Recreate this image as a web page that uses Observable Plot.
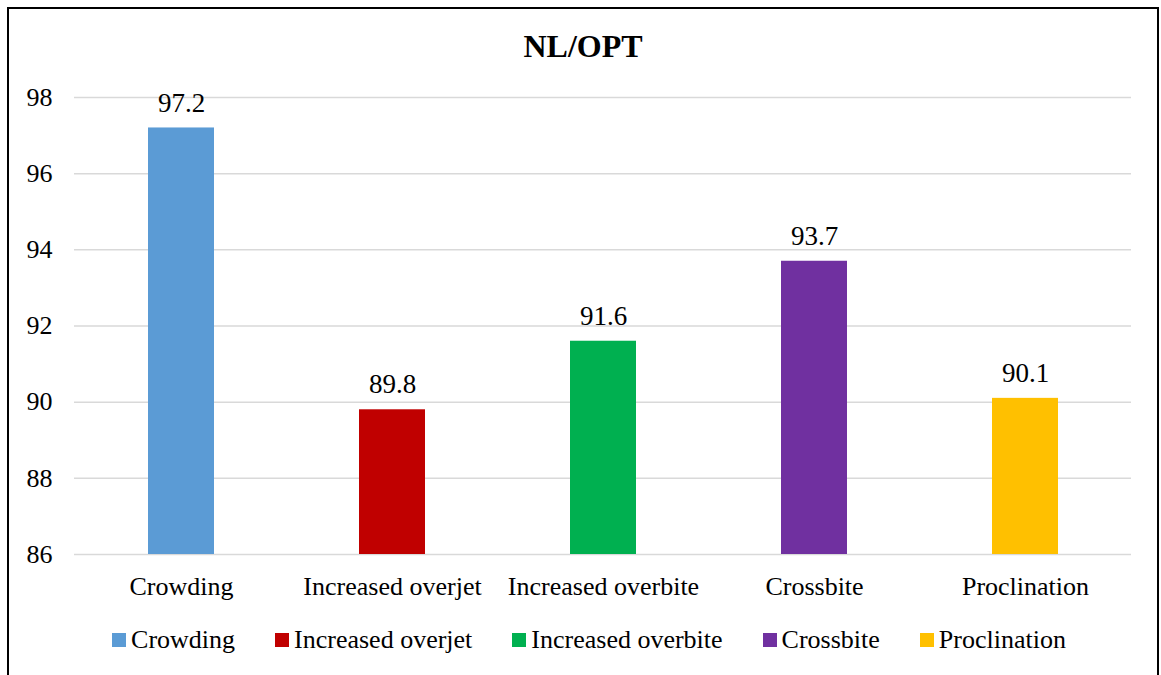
<!DOCTYPE html>
<html>
<head>
<meta charset="utf-8">
<script src="https://cdn.jsdelivr.net/npm/d3@7"></script>
<script src="https://cdn.jsdelivr.net/npm/@observablehq/plot@0.6"></script>
<style>
  html, body { margin: 0; padding: 0; background: #fff; }
  body { width: 1161px; height: 675px; overflow: hidden; position: relative;
         font-family: "Liberation Serif", "Times New Roman", serif; color: #000; }
  #frame { position: absolute; left: 7px; top: 7px; width: 1148px; height: 720px;
           border: 2px solid #000; box-sizing: content-box; }
  #title { position: absolute; left: 7px; width: 1152px; top: 29px; text-align: center;
           font-size: 32px; font-weight: bold; line-height: 34px; }
  #chart { position: absolute; left: 0; top: 70px; }
  #legend { position: absolute; left: 13px; width: 1152px; top: 624px; display: flex;
            justify-content: center; gap: 40px; font-size: 26px; line-height: 32px; }
  .item { display: flex; align-items: center; }
  .swatch { width: 14px; height: 14px; margin-right: 5px; }
  #chart svg text, #chart svg g { font-family: "Liberation Serif", "Times New Roman", serif;
                                  font-variant: normal; font-variant-numeric: normal; }
</style>
</head>
<body>
<div id="frame"></div>
<div id="title">NL/OPT</div>
<div id="chart"></div>
<div id="legend"></div>
<script>
// Percentage by malocclusion trait
const categories = ["Crowding", "Increased overjet", "Increased overbite", "Crossbite", "Proclination"];
const values = [97.2, 89.8, 91.6, 93.7, 90.1];
const yTicks = [86, 88, 90, 92, 94, 96, 98];
const palette = ["#5B9BD5", "#C00000", "#00B050", "#7030A0", "#FFC000"];

const data = categories.map((c, i) => ({category: c, value: values[i]}));
const yMin = yTicks[0];
const yMax = yTicks[yTicks.length - 1];

const chart = Plot.plot({
  width: 1161,
  height: 540,
  marginLeft: 74,
  marginRight: 30,
  marginTop: 27,
  marginBottom: 56,
  style: {fontFamily: '"Liberation Serif", "Times New Roman", serif', fontSize: "26px", color: "#000", background: "transparent"},
  x: {domain: categories, paddingInner: 0.688, paddingOuter: 0.344, label: null},
  y: {domain: [yMin, yMax], label: null},
  color: {domain: categories, range: palette},
  marks: [
    Plot.ruleY(yTicks, {stroke: "#d9d9d9", strokeWidth: 1.5}),
    Plot.barY(data, {x: "category", y1: yMin, y2: "value", fill: "category"}),
    Plot.text(data, {x: "category", y: "value", text: d => d.value.toFixed(1),
                     lineAnchor: "middle", dy: -25, fontSize: 27, fontVariant: "normal", fill: "#000"}),
    Plot.axisY({ticks: yTicks, tickSize: 0, tickPadding: 22, fontSize: 26, fontVariant: "normal",
                label: null, tickFormat: d => String(d)}),
    Plot.axisX({tickSize: 0, tickPadding: 22, fontSize: 26, label: null})
  ]
});
document.getElementById("chart").appendChild(chart);

// Legend row under the chart
const legend = d3.select("#legend");
categories.forEach((c, i) => {
  const item = legend.append("div").attr("class", "item");
  item.append("div").attr("class", "swatch").style("background", palette[i]);
  item.append("span").text(c);
});
</script>
</body>
</html>
